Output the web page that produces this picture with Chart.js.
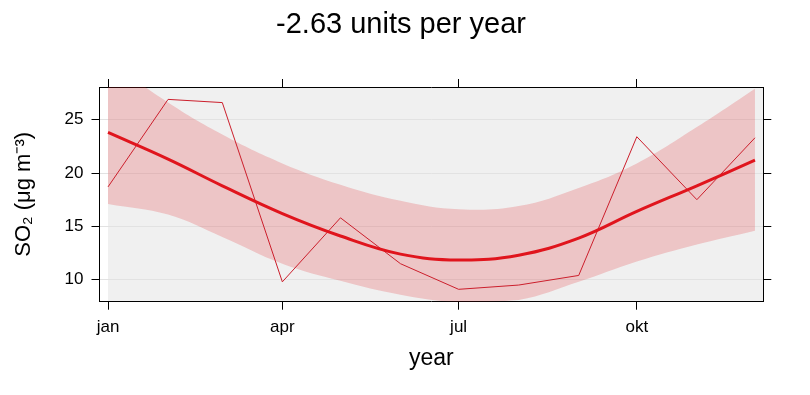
<!DOCTYPE html>
<html>
<head>
<meta charset="utf-8">
<script src="https://cdn.jsdelivr.net/npm/chart.js@4"></script>
<style>
    body { margin: 0; background: #fff; }
    canvas { display: block; }
</style>
</head>
<body>
<canvas id="trendChart" width="810" height="395"></canvas>
<script>
// Monthly SO2 means and the smooth trend with its confidence band
const months = ['2021-01-01', '2021-02-01', '2021-03-01', '2021-04-01', '2021-05-01', '2021-06-01',
                '2021-07-01', '2021-08-01', '2021-09-01', '2021-10-01', '2021-11-01', '2021-12-01'];
const monthlyMean = [18.7, 26.9, 26.6, 9.8, 15.8, 11.5, 9.1, 9.5, 10.4, 23.4, 17.5, 23.3];
const smoothTrend = [23.8, 21.3, 18.8, 16.2, 14.1, 12.4, 11.85, 12.3, 13.9, 16.4, 18.8, 21.2];
const upperBand = [30.6, 26.6, 23.6, 20.9, 18.9, 17.4, 16.6, 16.9, 18.6, 20.9, 24.3, 27.9];
const lowerBand = [17.1, 16.1, 14.0, 11.5, 9.9, 8.6, 7.9, 8.1, 9.8, 11.7, 13.3, 14.6];

const tickDates = ['2021-01-01', '2021-04-01', '2021-07-01', '2021-10-01'];
const tickLabels = ['jan', 'apr', 'jul', 'okt'];
const yTicks = [10, 15, 20, 25];

const FONT = "'Liberation Sans', Arial, sans-serif";

// day number within the year, used as x value
function dayOfYear(s) {
    const d = new Date(s + 'T00:00:00Z');
    return (d - Date.UTC(d.getUTCFullYear(), 0, 1)) / 86400000;
}

function toPoints(values) {
    return months.map((m, i) => ({ x: dayOfYear(m), y: values[i] }));
}

// grey panel behind the data, from the first month to the right edge
const panelBackground = {
    id: 'panelBackground',
    beforeDraw(chart) {
        const { ctx, chartArea, scales } = chart;
        const x0 = scales.x.getPixelForValue(dayOfYear(months[0]));
        ctx.save();
        ctx.fillStyle = '#f0f0f0';
        ctx.fillRect(x0, chartArea.top, chartArea.right - x0, chartArea.bottom - chartArea.top);
        ctx.restore();
    }
};

function xTicks(scale) {
    scale.ticks = tickDates.map(d => ({ value: dayOfYear(d) }));
}
function yTicksFn(scale) {
    scale.ticks = yTicks.map(v => ({ value: v }));
}

const X_MIN = -4.4, X_MAX = 338.3;
const Y_MIN = 7.94, Y_MAX = 28.06;

function initTrendChart() {
    const ctx = document.getElementById('trendChart');

    new Chart(ctx, {
        type: 'line',
        data: {
            datasets: [{
                label: 'smooth',
                data: toPoints(smoothTrend),
                borderColor: '#e0151d',
                borderWidth: 3,
                pointRadius: 0,
                tension: 0.4,
                fill: false,
                order: 0
            }, {
                label: 'monthly',
                data: toPoints(monthlyMean),
                borderColor: '#cc1f2c',
                borderWidth: 1,
                pointRadius: 0,
                tension: 0,
                fill: false,
                order: 1
            }, {
                label: 'upper',
                data: toPoints(upperBand),
                borderWidth: 0,
                borderColor: 'rgba(0,0,0,0)',
                backgroundColor: 'rgba(227, 26, 28, 0.2)',
                pointRadius: 0,
                tension: 0.4,
                fill: '+1',
                clip: 0,
                order: 2
            }, {
                label: 'lower',
                data: toPoints(lowerBand),
                borderWidth: 0,
                borderColor: 'rgba(0,0,0,0)',
                pointRadius: 0,
                tension: 0.4,
                fill: false,
                clip: 0,
                order: 3
            }]
        },
        options: {
            responsive: false,
            animation: false,
            devicePixelRatio: 1,
            layout: { padding: { right: 8 } },
            plugins: {
                legend: { display: false },
                tooltip: { enabled: false },
                title: {
                    display: true,
                    text: '-2.63 units per year',
                    color: '#000',
                    font: { family: FONT, size: 29, weight: 'normal' },
                    padding: { top: 7.6, bottom: 0 }
                }
            },
            scales: {
                x: {
                    type: 'linear',
                    position: 'bottom',
                    min: X_MIN,
                    max: X_MAX,
                    afterBuildTicks: xTicks,
                    afterFit: s => { s.height = 93.3; },
                    ticks: {
                        autoSkip: false,
                        maxRotation: 0,
                        padding: 7,
                        color: '#000',
                        font: { family: FONT, size: 17 },
                        callback: (v, i) => tickLabels[i]
                    },
                    grid: { drawOnChartArea: false, tickLength: 8, tickColor: '#000' },
                    border: { display: true, color: '#000', width: 1 },
                    title: {
                        display: true,
                        text: 'year',
                        color: '#000',
                        font: { family: FONT, size: 23 },
                        padding: { top: 0, bottom: 22.5 }
                    }
                },
                x2: {
                    type: 'linear',
                    position: 'top',
                    min: X_MIN,
                    max: X_MAX,
                    afterBuildTicks: xTicks,
                    afterFit: s => { s.height = 44.6; },
                    ticks: { display: false },
                    grid: { drawOnChartArea: false, tickLength: 8, tickColor: '#000' },
                    border: { display: true, color: '#000', width: 1 }
                },
                y: {
                    type: 'linear',
                    position: 'left',
                    min: Y_MIN,
                    max: Y_MAX,
                    afterBuildTicks: yTicksFn,
                    afterFit: s => { s.width = 99.5; },
                    ticks: {
                        padding: 8,
                        color: '#000',
                        font: { family: FONT, size: 17 }
                    },
                    grid: { color: '#e2e2e2', tickLength: 8, tickColor: '#000' },
                    border: { display: true, color: '#000', width: 1 },
                    title: {
                        display: true,
                        text: 'SO\u2082 (\u03bcg m\u207b\u00b3)',
                        color: '#000',
                        font: { family: FONT, size: 22 },
                        padding: { top: 10.9, bottom: 0 }
                    }
                },
                y2: {
                    type: 'linear',
                    position: 'right',
                    min: Y_MIN,
                    max: Y_MAX,
                    afterBuildTicks: yTicksFn,
                    afterFit: s => { s.width = 38.7; },
                    ticks: { display: false },
                    grid: { drawOnChartArea: false, tickLength: 8, tickColor: '#000' },
                    border: { display: true, color: '#000', width: 1 }
                }
            }
        },
        plugins: [panelBackground]
    });
}

initTrendChart();
</script>
</body>
</html>
